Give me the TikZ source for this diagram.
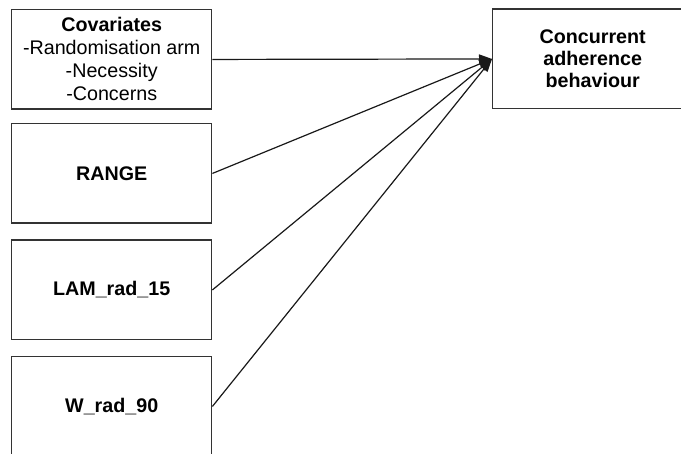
\documentclass[tikz,border=0pt]{standalone}
\usepackage{fontspec}
\setmainfont{Liberation Sans}
\usetikzlibrary{arrows.meta}
\begin{document}
\begin{tikzpicture}[x=1pt,y=-1pt,
  box/.style={draw=black!80, line width=1.4pt, minimum width=200pt,
    minimum height=99.5pt, inner sep=0pt, align=center, anchor=north west,
    font=\fontsize{19.7}{23}\selectfont},
  outbox/.style={box, font=\fontsize{19.7}{22}\selectfont\bfseries},
  link/.style={line width=1.2pt, draw=black!90,
    -{Triangle[length=13pt,width=9pt]}}]
\clip (0,0) rectangle (681,454);
\fill[white] (0,0) rectangle (681,454);
% predictor boxes on the left
\node[box] (cov) at (11,9) {\textbf{Covariates}\\-Randomisation arm\\-Necessity\\-Concerns};
\node[box, font=\fontsize{19.7}{23}\selectfont\bfseries] (range) at (11,123) {RANGE};
\node[box, font=\fontsize{19.7}{23}\selectfont\bfseries] (lam) at (11,239.5) {LAM\_rad\_15};
\node[box, font=\fontsize{19.7}{23}\selectfont\bfseries] (wrad) at (11,356) {W\_rad\_90};
% outcome box on the right
\node[outbox] (out) at (492,8.5) {Concurrent\\adherence\\behaviour};
% paths into the outcome
\draw[link] (cov.east) -- (out.west);
\draw[link] (range.east) -- (out.west);
\draw[link] (lam.east) -- (out.west);
\draw[link] (wrad.east) -- (out.west);
\end{tikzpicture}
\end{document}
